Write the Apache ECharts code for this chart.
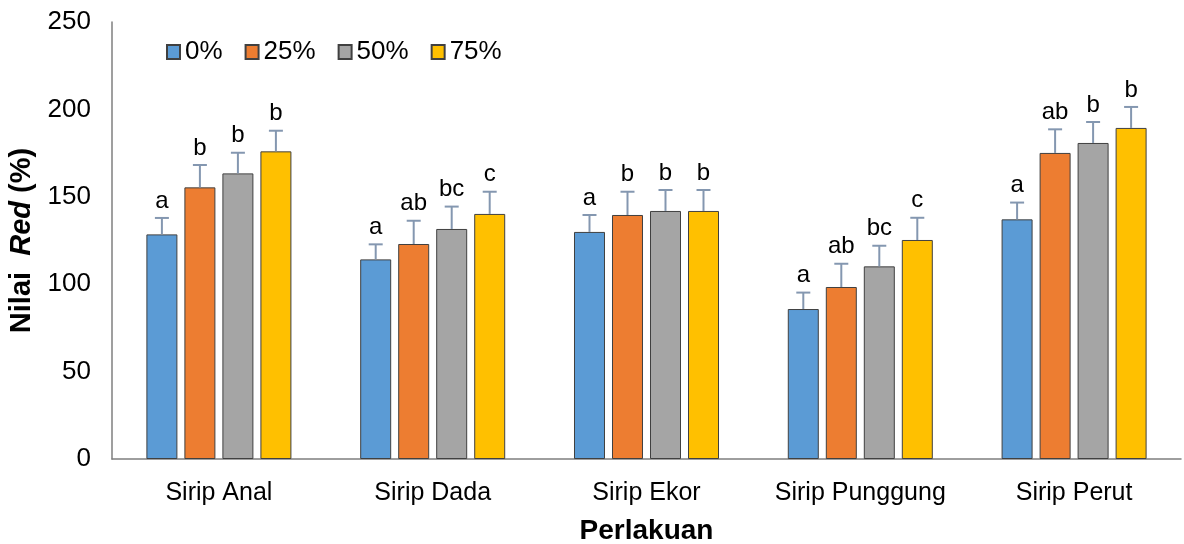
<!DOCTYPE html>
<html><head><meta charset="utf-8">
<script src="https://cdn.jsdelivr.net/npm/echarts@6/dist/echarts.min.js"></script>
<style>html,body{margin:0;padding:0;background:#fff}#c{width:1184px;height:544px}</style>
</head><body><div id="c"></div>
<script>
const categories = ['Sirip Anal', 'Sirip Dada', 'Sirip Ekor', 'Sirip Punggung', 'Sirip Perut'];
const seriesNames = ['0%', '25%', '50%', '75%'];
const mean0 = [128.5, 114.2, 129.9, 85.8, 137.1];
const mean25 = [155.4, 123.0, 139.6, 98.4, 175.1];
const mean50 = [163.4, 131.6, 141.9, 110.2, 180.8];
const mean75 = [176.0, 140.2, 141.9, 125.3, 189.4];
const err0 = [9.4, 8.6, 9.7, 9.4, 9.6];
const err25 = [12.8, 13.3, 13.3, 13.3, 13.5];
const err50 = [11.8, 12.8, 12.0, 11.8, 12.0];
const err75 = [11.8, 12.7, 12.0, 12.7, 12.0];
const letters0 = ['a', 'a', 'a', 'a', 'a'];
const letters25 = ['b', 'ab', 'b', 'ab', 'ab'];
const letters50 = ['b', 'bc', 'b', 'bc', 'b'];
const letters75 = ['b', 'c', 'b', 'c', 'b'];
const yTicks = [0, 50, 100, 150, 200, 250];

const means = [mean0, mean25, mean50, mean75];
const errs = [err0, err25, err50, err75];
const letters = [letters0, letters25, letters50, letters75];
const colors = ['#5B9BD5', '#ED7D31', '#A5A5A5', '#FFC000'];
const FONT = "'Liberation Sans', Arial, sans-serif";
const BAR_W = 31, BAR_STEP = 38;

const chart = echarts.init(document.getElementById('c'));
const series = [];
means.forEach((m, i) => {
  series.push({
    name: seriesNames[i], type: 'bar', data: m,
    barWidth: BAR_W, barGap: '22.6%',
    itemStyle: { color: colors[i], borderColor: '#404040', borderWidth: 1 },
    z: 2
  });
});
means.forEach((m, i) => {
  series.push({
    type: 'custom', silent: true, z: 3,
    data: m.map((v, k) => [k, v, errs[i][k]]),
    renderItem: function (params, api) {
      const cat = api.value(0), v = api.value(1), e = api.value(2);
      const p0 = api.coord([cat, v]);
      const p1 = api.coord([cat, v + e]);
      const x = p0[0] + (i - 1.5) * BAR_STEP;
      const st = { stroke: '#8497B0', lineWidth: 2 };
      return {
        type: 'group', children: [
          { type: 'line', shape: { x1: x, y1: p0[1], x2: x, y2: p1[1] }, style: st },
          { type: 'line', shape: { x1: x - 7, y1: p1[1], x2: x + 7, y2: p1[1] }, style: st },
          { type: 'text', style: { text: letters[i][params.dataIndex], x: x, y: p1[1] - 5,
              textAlign: 'center', textVerticalAlign: 'bottom', fill: '#000',
              font: '24px ' + FONT } }
        ]
      };
    }
  });
});

chart.setOption({
  animation: false,
  textStyle: { fontFamily: FONT },
  grid: { left: 112, right: 3, top: 22, bottom: 85, containLabel: false, outerBoundsMode: 'none' },
  legend: {
    data: seriesNames, left: 161, top: 34, itemWidth: 13, itemHeight: 14, itemGap: 22,
    icon: 'rect',
    textStyle: { fontSize: 26, color: '#000', fontFamily: FONT }
  },
  xAxis: {
    type: 'category', data: categories,
    axisLine: { lineStyle: { color: '#7f7f7f', width: 1.5 } },
    axisTick: { show: false },
    axisLabel: { fontSize: 25, color: '#000', margin: 22, fontFamily: FONT, interval: 0 },
    name: 'Perlakuan', nameLocation: 'middle', nameGap: 58,
    nameTextStyle: { fontSize: 28, fontWeight: 'bold', color: '#000', fontFamily: FONT }
  },
  yAxis: {
    type: 'value', min: 0, max: 250, interval: 50,
    axisLine: { show: true, lineStyle: { color: '#7f7f7f', width: 1.5 } },
    axisTick: { show: false },
    splitLine: { show: false },
    axisLabel: { fontSize: 26, color: '#000', margin: 21, fontFamily: FONT,
      formatter: v => yTicks.includes(v) ? String(v) : '' },
    name: '{b|Nilai  }{bi|Red}{b| (%)}', nameLocation: 'middle', nameGap: 67, nameRotate: 90,
    nameTextStyle: { color: '#000', rich: {
      b: { fontSize: 29, fontWeight: 'bold', fontFamily: FONT, color: '#000' },
      bi: { fontSize: 29, fontWeight: 'bold', fontStyle: 'italic', fontFamily: FONT, color: '#000' }
    } }
  },
  series: series
});
</script></body></html>
